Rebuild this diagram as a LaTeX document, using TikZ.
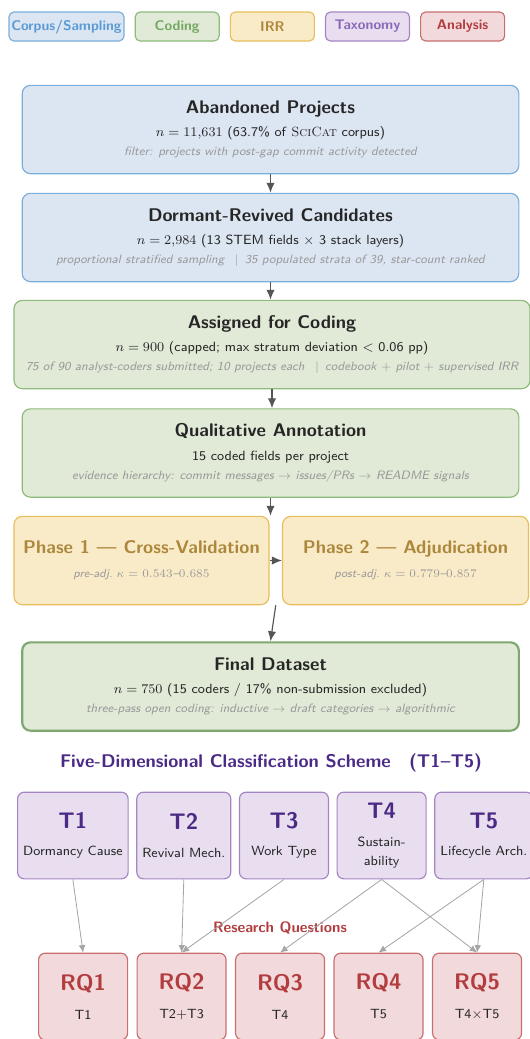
\documentclass[tikz,border=0pt]{standalone}
\usepackage{amsmath,amssymb}
\usepackage{fontspec}
\usepackage{tikz}
\usetikzlibrary{arrows.meta,positioning,calc}
\renewcommand{\familydefault}{\sfdefault}

\definecolor{corpusfill}{HTML}{DCE6F2}
\definecolor{corpusline}{HTML}{7AAEDD}
\definecolor{corpustext}{HTML}{5B9BD5}
\definecolor{codingfill}{HTML}{E0EAD6}
\definecolor{codingline}{HTML}{8DBB7C}
\definecolor{codingtext}{HTML}{74A862}
\definecolor{irrfill}{HTML}{FAEBC8}
\definecolor{irrline}{HTML}{E8BE5C}
\definecolor{irrtext}{HTML}{AC873C}
\definecolor{taxfill}{HTML}{E8DEEF}
\definecolor{taxline}{HTML}{A585C4}
\definecolor{taxtext}{HTML}{8A68B8}
\definecolor{taxdark}{HTML}{4B2A86}
\definecolor{rqfill}{HTML}{F2DADC}
\definecolor{rqline}{HTML}{C86E6E}
\definecolor{rqtext}{HTML}{B23C3E}
\definecolor{textdark}{HTML}{262626}
\definecolor{notegray}{HTML}{9A9A9A}
\definecolor{arrowdark}{HTML}{555555}
\definecolor{arrowlight}{HTML}{A6A6A6}

\newcommand{\boxtitle}[1]{{\fontsize{11}{12}\selectfont\bfseries #1}}
\newcommand{\boxnote}[1]{{\fontsize{7.3}{8}\selectfont\itshape\color{notegray}#1}}
\newcommand{\tagtitle}[1]{{\fontsize{13.5}{15}\selectfont\bfseries #1}}

\tikzset{stage/.style={draw, rounded corners=5pt, line width=0.7pt, align=center, inner sep=3pt, text=textdark, font=\fontsize{8}{11.5}\selectfont}}
\tikzset{corpusbox/.style={stage, draw=corpusline, fill=corpusfill, minimum width=298pt, minimum height=53pt}}
\tikzset{codingbox/.style={stage, draw=codingline, fill=codingfill, minimum width=298pt, minimum height=53pt}}
\tikzset{irrbox/.style={stage, draw=irrline, fill=irrfill, minimum height=53pt}}
\tikzset{taxbox/.style={stage, draw=taxline, fill=taxfill, minimum width=53.4pt, minimum height=52pt, rounded corners=4pt, inner sep=3.3pt, font=\fontsize{8}{11.4}\selectfont}}
\tikzset{rqbox/.style={stage, draw=rqline, fill=rqfill, minimum width=53.4pt, minimum height=52pt, rounded corners=4pt, font=\fontsize{8}{11.4}\selectfont}}
\tikzset{lgbox/.style={draw, rounded corners=3pt, line width=0.7pt, minimum height=17.4pt, minimum width=50.4pt, inner sep=1pt, font=\fontsize{8.4}{10}\selectfont\bfseries}}
\tikzset{flow/.style={-{Latex[length=6pt,width=5pt]}, draw=arrowdark, line width=0.7pt}}
\tikzset{link/.style={-{Latex[length=4.5pt,width=4pt]}, draw=arrowlight, line width=0.5pt}}

\begin{document}
\begin{tikzpicture}[x=0.6pt, y=-0.6pt]
  \useasboundingbox (0,0) rectangle (529,1039);

  % legend row
  \node[lgbox, draw=corpusline, fill=corpusfill, text=corpustext, minimum width=69pt] (lgcorpus) at (66.5,26.5) {Corpus/Sampling};
  \node[lgbox, draw=codingline, fill=codingfill, text=codingtext, right=6pt of lgcorpus] (lgcoding) {Coding};
  \node[lgbox, draw=irrline, fill=irrfill, text=irrtext, right=6pt of lgcoding] (lgirr) {IRR};
  \node[lgbox, draw=taxline, fill=taxfill, text=taxtext, right=6pt of lgirr] (lgtax) {Taxonomy};
  \node[lgbox, draw=rqline, fill=rqfill, text=rqtext, right=6pt of lgtax] (lgana) {Analysis};

  % pipeline
  \node[corpusbox] (aband) at (270.5,129.5) {\boxtitle{Abandoned Projects}\\[2.5pt]
    $n=11{,}631$ (63.7\% of \textrm{\textsc{SciCat}} corpus)\\
    \boxnote{filter: projects with post-gap commit activity detected}};
  \node[corpusbox] (dormant) at (270.5,237.5) {\boxtitle{Dormant-Revived Candidates}\\[2.5pt]
    $n=2{,}984$ (13 STEM fields $\times$ 3 stack layers)\\
    \boxnote{proportional stratified sampling \enspace$|$\enspace 35 populated strata of 39, star-count ranked}};
  \node[codingbox, minimum width=309.6pt] (assigned) at (272,344.5) {\boxtitle{Assigned for Coding}\\[2.5pt]
    $n=900$ (capped; max stratum deviation $<$ 0.06 pp)\\
    \boxnote{75 of 90 analyst-coders submitted; 10 projects each \enspace$|$\enspace codebook $+$ pilot $+$ supervised IRR}};
  \node[codingbox] (qual) at (270.5,453) {\boxtitle{Qualitative Annotation}\\[2.5pt]
    15 coded fields per project\\
    \boxnote{evidence hierarchy: commit messages $\rightarrow$ issues/PRs $\rightarrow$ README signals}};
  \node[irrbox, minimum width=153pt] (phase1) at (141.5,560.5) {{\fontsize{11}{12}\selectfont\bfseries\color{irrtext}Phase 1 --- Cross-Validation}\\[3pt]
    {\fontsize{7}{8}\selectfont\itshape\color{notegray}pre-adj.\ $\kappa=0.543$--$0.685$}};
  \node[irrbox, minimum width=147.6pt] (phase2) at (405.5,560.5) {{\fontsize{11}{12}\selectfont\bfseries\color{irrtext}Phase 2 --- Adjudication}\\[3pt]
    {\fontsize{7}{8}\selectfont\itshape\color{notegray}post-adj.\ $\kappa=0.779$--$0.857$}};
  \node[codingbox, line width=1.3pt, draw=codingline!90!black] (final) at (270.5,686.5) {\boxtitle{Final Dataset}\\[2.5pt]
    $n=750$ (15 coders / 17\% non-submission excluded)\\
    \boxnote{three-pass open coding: inductive $\rightarrow$ draft categories $\rightarrow$ algorithmic}};

  \coordinate (irrin) at (qual.south |- phase1.north);
  \coordinate (irrout) at ($(phase1.south east)!0.5!(phase2.south west)$);
  \draw[flow] (aband) -- (dormant);
  \draw[flow] (dormant.south) -- (dormant.south |- assigned.north);
  \draw[flow] (assigned.south) -- (assigned.south |- qual.north);
  \draw[flow] (qual.south) -- (irrin);
  \draw[flow] (phase1) -- (phase2);
  \draw[flow] (irrout) -- (final.north);

  % taxonomy
  \node[font=\fontsize{11}{12}\selectfont\bfseries, text=taxdark] (scheme) at (271,763) {Five-Dimensional Classification Scheme\quad(T1--T5)};
  \node[taxbox, anchor=west] (t1) at (17,835.5) {\tagtitle{\color{taxdark}T1}\\[5pt] Dormancy Cause};
  \node[taxbox, right=4.5pt of t1] (t2) {\tagtitle{\color{taxdark}T2}\\[5pt] Revival Mech.};
  \node[taxbox, right=4.5pt of t2] (t3) {\tagtitle{\color{taxdark}T3}\\[5pt] Work Type};
  \node[taxbox, right=4.5pt of t3] (t4) {\tagtitle{\color{taxdark}T4}\\[5pt] Sustain-\\ability};
  \node[taxbox, right=4.5pt of t4] (t5) {\tagtitle{\color{taxdark}T5}\\[5pt] Lifecycle Arch.};

  % research questions
  \node[font=\fontsize{9}{10}\selectfont\bfseries, text=rqtext] (rqlabel) at (280,928) {Research Questions};
  \node[rqbox, anchor=west] (rq1) at (38,996.5) {\tagtitle{\color{rqtext}RQ1}\\[6pt] T1};
  \node[rqbox, right=5pt of rq1] (rq2) {\tagtitle{\color{rqtext}RQ2}\\[6pt] T2$+$T3};
  \node[rqbox, right=5pt of rq2] (rq3) {\tagtitle{\color{rqtext}RQ3}\\[6pt] T4};
  \node[rqbox, right=5pt of rq3] (rq4) {\tagtitle{\color{rqtext}RQ4}\\[6pt] T5};
  \node[rqbox, right=5pt of rq4] (rq5) {\tagtitle{\color{rqtext}RQ5}\\[6pt] T4$\times$T5};

  \draw[link] (t1.south) -- (rq1.north);
  \draw[link] (t2.south) -- (rq2.north);
  \draw[link] (t3.south) -- (rq2.north);
  \draw[link] (t4.south) -- (rq3.north);
  \draw[link] (t4.south) -- (rq5.north);
  \draw[link] (t5.south) -- (rq4.north);
  \draw[link] (t5.south) -- (rq5.north);
\end{tikzpicture}
\end{document}
